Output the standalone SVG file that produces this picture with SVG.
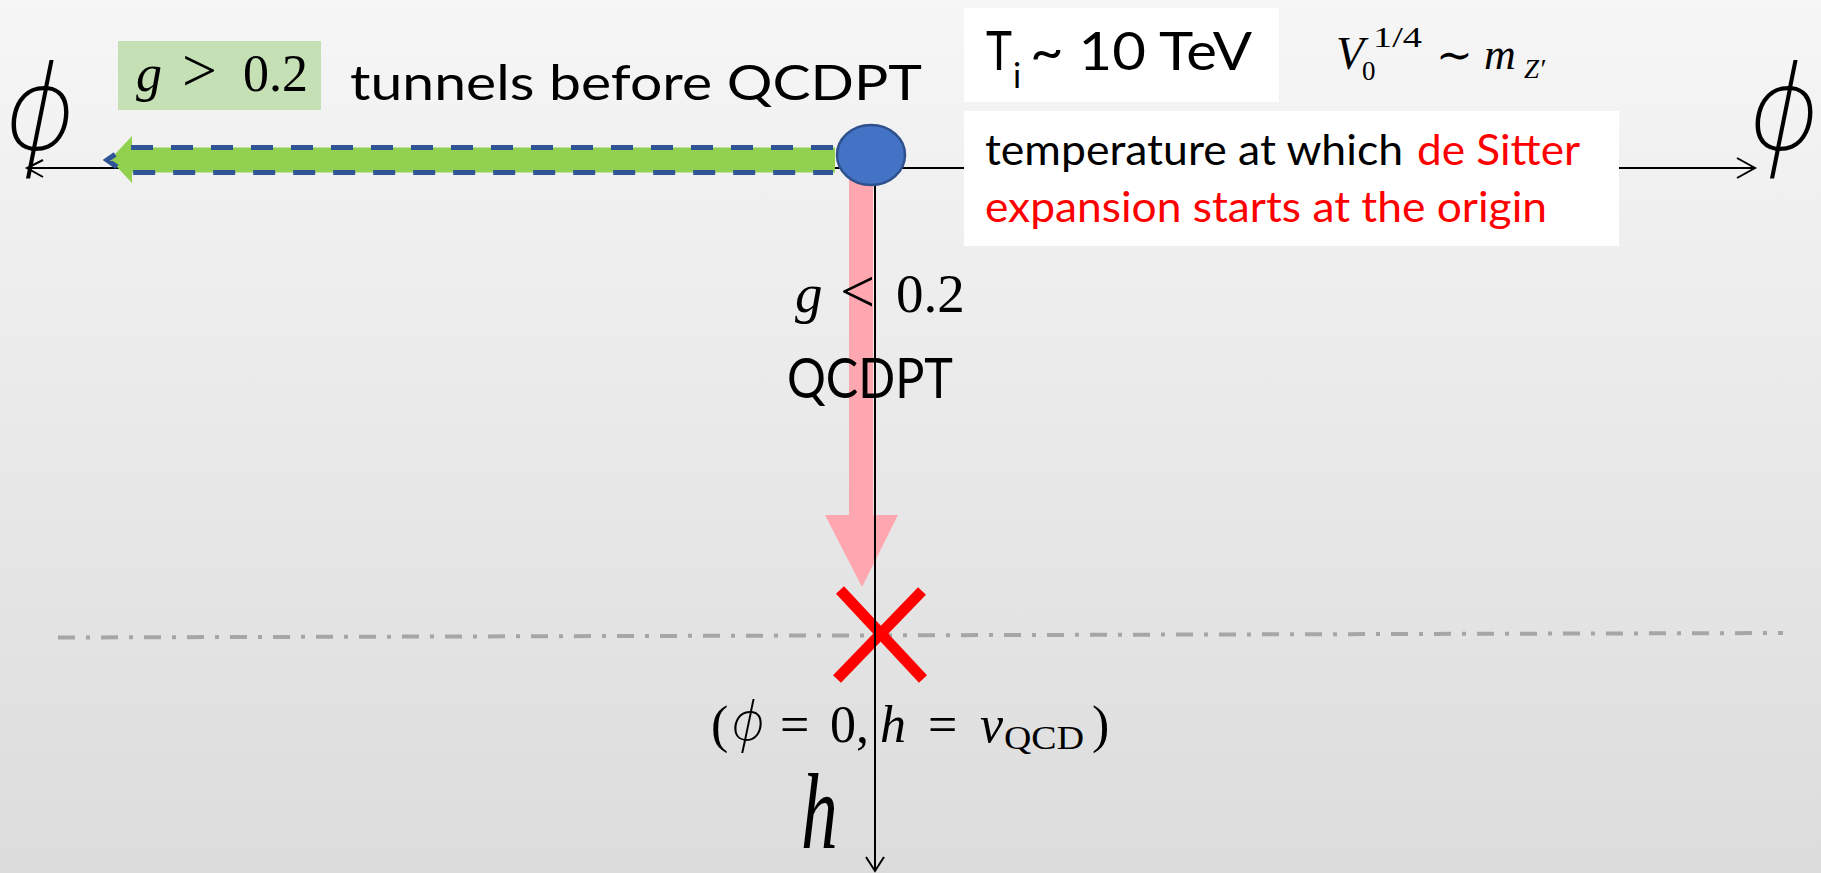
<svg xmlns="http://www.w3.org/2000/svg" width="1821" height="873" viewBox="0 0 1821 873">
<defs>
<linearGradient id="bg" x1="0" y1="0" x2="0" y2="873" gradientUnits="userSpaceOnUse">
<stop offset="0" stop-color="#f6f6f6"/>
<stop offset="1" stop-color="#dcdcdc"/>
</linearGradient>
<style>
.ax{stroke:#000;stroke-width:2;fill:none}
.sans{font-family:Lato,"Open Sans","Liberation Sans",sans-serif}
.math{font-family:"Liberation Serif","DejaVu Serif",serif}
.it{font-style:italic}
.phi{font-family:"Noto Sans","DejaVu Sans",sans-serif;font-weight:200;font-style:italic}
.box{fill:#fff}
</style>
</defs>
<rect x="0" y="0" width="1821" height="873" fill="url(#bg)"/>

<g id="connectors">
<line x1="58" y1="637.5" x2="1783" y2="633" stroke="#a6a6a6" stroke-width="4" stroke-dasharray="17 11 4 11"/>
<line class="ax" x1="27" y1="168" x2="1755" y2="168"/>
<polyline class="ax" points="43,160 27,168 43,177"/>
<polyline class="ax" points="1737,158 1755,168 1737,178"/>
<polygon points="849,160 873,160 873,515 898,515 862,587 825,515 849,515" fill="#ffa7b0"/>
<polygon points="110,159.5 132,136 132,147.5 835,147.5 835,172.5 132,172.5 132,183" fill="#92d050"/>
<path d="M833,147.5 H125 L107,160 L125,172.5 H833" fill="none" stroke="#2f5597" stroke-width="5" stroke-dasharray="22 18"/>
</g>

<g id="cross">
<line x1="840" y1="590" x2="923" y2="679" stroke="#ff0000" stroke-width="11"/>
<line x1="922" y1="591" x2="837" y2="679" stroke="#ff0000" stroke-width="11"/>
</g>

<g id="h-axis">
<line class="ax" x1="875" y1="168" x2="875" y2="871"/>
<polyline class="ax" points="866,857 875,871 884,857"/>
</g>

<g id="origin">
<ellipse cx="871" cy="155" rx="34" ry="30" fill="#4472c4" stroke="#2f528f" stroke-width="2.5"/>
</g>

<g id="phi-left">
<text class="phi" x="0" y="0" font-size="112" text-anchor="middle" transform="translate(40,150) scale(1,1.05)">ϕ</text>
</g>
<g id="phi-right">
<text class="phi" x="0" y="0" font-size="112" text-anchor="middle" transform="translate(1784,150) scale(1,1.05)">ϕ</text>
</g>

<g id="g-gt">
<rect x="118" y="41" width="203" height="69" fill="#c5e0b4"/>
<text class="math" y="91" font-size="52"><tspan class="it" x="136">g</tspan><tspan x="182" font-size="62">&gt;</tspan><tspan x="243">0.2</tspan></text>
</g>

<g id="tunnels">
<text class="sans" x="350" y="100" font-size="49" textLength="572" lengthAdjust="spacingAndGlyphs">tunnels before QCDPT</text>
</g>

<g id="Ti">
<rect class="box" x="964" y="8" width="315" height="94"/>
<text class="sans" x="986" y="70" font-size="54" textLength="26" lengthAdjust="spacingAndGlyphs">T</text>
<text class="sans" x="1013" y="88" font-size="34">i</text>
<text class="sans" x="1030" y="70" font-size="52" textLength="222" lengthAdjust="spacingAndGlyphs">~ 10 TeV</text>
</g>

<g id="V0">
<text class="math it" x="1336" y="69" font-size="46">V</text>
<text class="math" x="1373" y="47" font-size="30" textLength="49" lengthAdjust="spacingAndGlyphs">1/4</text>
<text class="math" x="1362" y="80" font-size="27">0</text>
<text class="math" x="1436" y="70" font-size="44">∼</text>
<text class="math it" x="1484" y="69" font-size="44">m</text>
<text class="math it" x="1524" y="78" font-size="27">Z′</text>
</g>

<g id="desc">
<rect class="box" x="964" y="111" width="655" height="135"/>
<text class="sans" x="985" y="165" font-size="42" textLength="418" lengthAdjust="spacingAndGlyphs">temperature at which</text>
<text class="sans" x="1417" y="165" font-size="42" fill="#ff0000" textLength="163" lengthAdjust="spacingAndGlyphs">de Sitter</text>
<text class="sans" x="985" y="222" font-size="42" fill="#ff0000" textLength="562" lengthAdjust="spacingAndGlyphs">expansion starts at the origin</text>
</g>

<g id="g-lt">
<text class="math" y="312" font-size="55"><tspan class="it" x="795">g</tspan><tspan x="840" font-size="62">&lt;</tspan><tspan x="896">0.2</tspan></text>
</g>

<g id="qcdpt">
<text class="sans" x="787" y="398" font-size="56" textLength="166" lengthAdjust="spacingAndGlyphs">QCDPT</text>
</g>

<g id="vacuum">
<text class="math" y="742" font-size="52"><tspan x="711">(</tspan><tspan x="780">=</tspan><tspan x="830">0,</tspan><tspan class="it" x="880">h</tspan><tspan x="928">=</tspan><tspan class="it" x="980">v</tspan><tspan x="1092">)</tspan></text>
<text class="phi" x="748" y="740" font-size="54" text-anchor="middle" font-weight="300">ϕ</text>
<text class="math" x="1004" y="749" font-size="34" textLength="80" lengthAdjust="spacingAndGlyphs">QCD</text>
</g>

<g id="h-label">
<text class="math it" x="0" y="0" font-size="108" transform="translate(801,848) scale(0.68,1)">h</text>
</g>
</svg>
